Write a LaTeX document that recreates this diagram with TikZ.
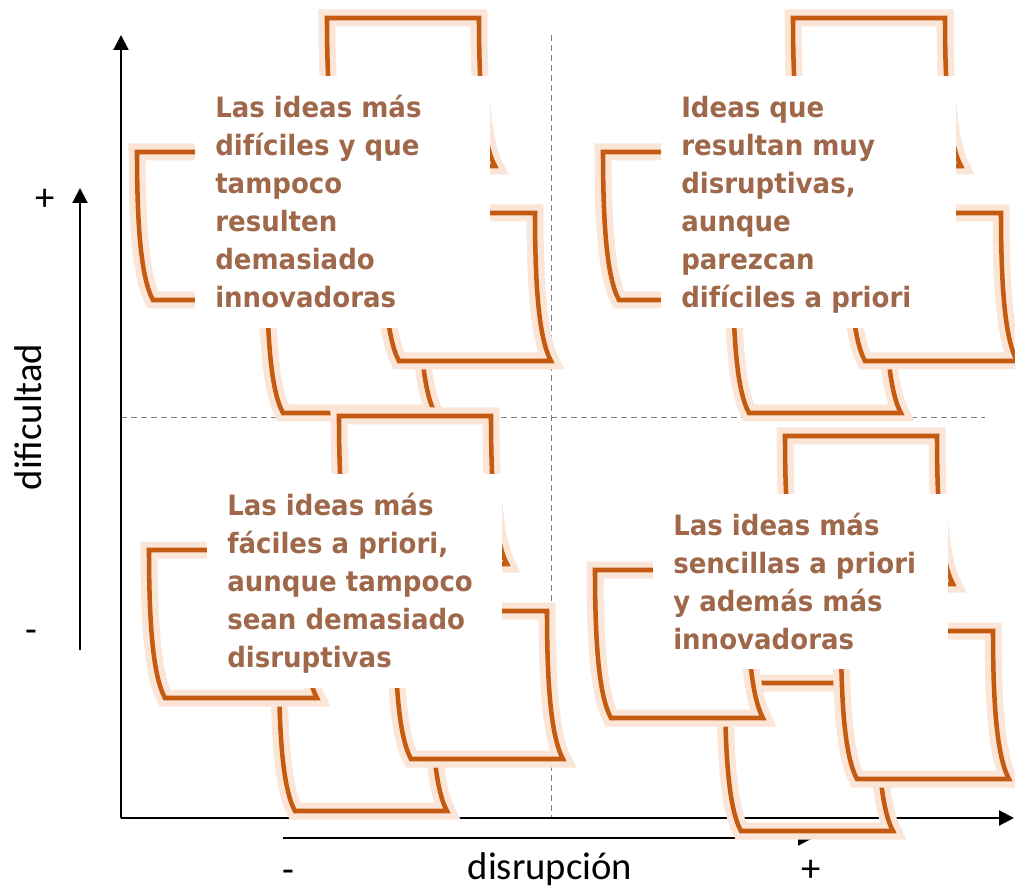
\documentclass[tikz,border=0pt]{standalone}
\usepackage{fontspec}
\setmainfont{Carlito}
\newfontfamily\boxfont{DejaVu Sans}[FakeStretch=0.93]
\usetikzlibrary{arrows.meta,calc}
\definecolor{sheetorange}{RGB}{197,90,17}
\definecolor{sheethalo}{RGB}{251,229,214}
\definecolor{boxtext}{RGB}{160,104,74}
\definecolor{gridgray}{RGB}{128,128,128}
\tikzset{
  tbox/.style={fill=white, inner sep=0pt, minimum width=221.25pt, anchor=north west},
  btext/.style={inner sep=0pt, anchor=north west, align=left, text=boxtext,
    font=\boxfont\bfseries\fontsize{21pt}{28.5pt}\selectfont},
  axlabel/.style={font=\fontsize{29pt}{34pt}\selectfont, inner sep=0pt},
  axisline/.style={line width=1.6pt, line join=miter, -{Triangle[width=11.25pt,length=11.25pt]}},
  quad/.style={gridgray, line width=0.75pt, dash pattern=on 4.5pt off 3pt}
}
\newcommand\sheetat[3]{%
  \begin{scope}[shift={(#1,#2)}]
    \draw[sheetorange, line width=3.4pt, line join=miter,
      preaction={fill=#3, draw=sheethalo, line width=12.75pt, line join=miter}]
      (0,0) -- (152,0) .. controls (152,74) and (156,126) .. (168,148)
      -- (16,148) .. controls (4,126) and (0,74) .. (0,0) -- cycle;
  \end{scope}}
\newcommand\sheetcluster[2]{%
  \begin{scope}[shift={(#1,#2)}]
    \sheetat{72}{189}{none}
    \sheetat{132}{-58}{white}
    \sheetat{-58}{76}{white}
    \sheetat{188}{137}{white}
  \end{scope}}
\begin{document}
\begin{tikzpicture}[x=0.75pt,y=-0.75pt]
\useasboundingbox (0,0) rectangle (1015,891);
% quadrant lines
\coordinate (vt) at (551,35);
\coordinate (vb) at (551,818);
\coordinate (hl) at (121,418);
\coordinate (hr) at (985,418);
\draw[quad] (vt) -- (vb);
\draw[quad] (hl) -- (hr);
% axes
\coordinate (O) at (121,818);
\coordinate (ytip) at (121,35);
\coordinate (xtip) at (1014,818);
\draw[axisline] (O) -- (ytip);
\draw[axisline] (O) -- (xtip);
\coordinate (ys) at (80,650);
\coordinate (ye) at (80,188);
\draw[axisline] (ys) -- (ye);
\coordinate (xs) at (283,838);
\coordinate (xe) at (813,838);
\draw[axisline] (xs) -- (xe);
% axis labels
\node[axlabel, rotate=90] (dif) at (28,417) {dificultad};
\node[axlabel, anchor=base] (dis) at (550,879) {disrupción};
\node[axlabel, anchor=base] (yplus) at (45,211) {+};
\node[axlabel, anchor=base] (yminus) at (31,642) {-};
\node[axlabel, anchor=base] (xminus) at (288,882) {-};
\node[axlabel, anchor=base] (xplus) at (811,881) {+};
% top-left
\sheetcluster{195}{76}
\node[tbox, minimum height=189pt] (tlbox) at (195,76) {};
\node[btext] (tltext) at ($(tlbox.north west)+(20,0)$) {\rule{0pt}{30.75pt}Las ideas más\\difíciles y que\\tampoco\\resulten\\demasiado\\innovadoras};
% top-right
\sheetcluster{661}{76}
\node[tbox, minimum height=189pt] (trbox) at (661,76) {};
\node[btext] (trtext) at ($(trbox.north west)+(20,0)$) {\rule{0pt}{30.75pt}Ideas que\\resultan muy\\disruptivas,\\aunque\\parezcan\\difíciles a priori};
% bottom-left
\sheetcluster{207}{474}
\node[tbox, minimum height=160.5pt] (blbox) at (207,474) {};
\node[btext] (bltext) at ($(blbox.north west)+(20,0)$) {\rule{0pt}{30.75pt}Las ideas más\\fáciles a priori,\\aunque tampoco\\sean demasiado\\disruptivas};
% bottom-right
\sheetcluster{653}{494}
\node[tbox, minimum height=131.25pt] (brbox) at (653,494) {};
\node[btext] (brtext) at ($(brbox.north west)+(20,0)$) {\rule{0pt}{30.75pt}Las ideas más\\sencillas a priori\\y además más\\innovadoras};
\end{tikzpicture}
\end{document}
